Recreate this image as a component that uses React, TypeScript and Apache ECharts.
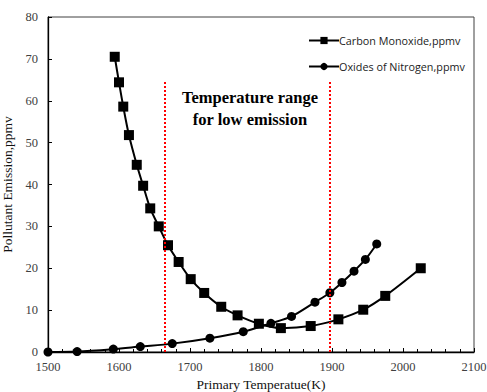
import React, { useEffect, useRef } from "react";
import * as echarts from "echarts";

const coTemp = [1594, 1600, 1606, 1614, 1625, 1634, 1644, 1656, 1669, 1684, 1701, 1720, 1744, 1767, 1797, 1828, 1870, 1909, 1944, 1975, 2025];
const coValue = [70.5, 64.4, 58.6, 51.8, 44.7, 39.7, 34.3, 30.0, 25.5, 21.5, 17.4, 14.1, 10.8, 8.75, 6.75, 5.7, 6.2, 7.8, 10.1, 13.4, 20.0];
const noxTemp = [1500, 1541, 1592, 1630, 1675, 1728, 1775, 1814, 1843, 1876, 1897, 1914, 1931, 1947, 1963];
const noxValue = [0, 0.1, 0.7, 1.3, 2.0, 3.3, 4.85, 6.85, 8.5, 11.9, 14.15, 16.6, 19.3, 22.1, 25.8];
const rangeBounds = [1665, 1897];
const rangeTop = 64.5;
const seriesNames = ["Carbon Monoxide,ppmv", "Oxides of Nitrogen,ppmv"];
const annotation = ["Temperature range", "for low emission"];

export default function App() {
  const ref = useRef<HTMLDivElement>(null);
  useEffect(() => {
    if (!ref.current) return;
    const chart = echarts.init(ref.current, undefined, { renderer: "svg" });
    const serif = "Liberation Serif";
    const lbl = { fontFamily: serif, fontSize: 12.5, color: "#404040" };
    chart.setOption({
      animation: false,
      backgroundColor: "#fff",
      grid: {
        left: 48, right: 13, top: 17, bottom: 40,
        outerBoundsMode: "none", containLabel: false,
        show: true, borderColor: "#404040", borderWidth: 1,
      },
      legend: {
        orient: "vertical",
        left: 303,
        top: 30,
        itemWidth: 30,
        itemHeight: 9,
        itemGap: 15,
        textStyle: { fontFamily: "Open Sans", fontSize: 10.8, color: "#222", padding: [0, 0, 0, -5] },
        data: seriesNames,
      },
      xAxis: {
        type: "value",
        min: 1500,
        max: 2100,
        interval: 100,
        name: "Primary Temperatue(K)",
        nameLocation: "middle",
        nameGap: 25,
        nameTextStyle: { fontFamily: serif, fontSize: 13.5, color: "#111" },
        axisLine: { lineStyle: { color: "#000", width: 1.3 } },
        axisTick: { inside: true, length: 4, lineStyle: { color: "#000" } },
        minorTick: { show: true, splitNumber: 5, length: 3, lineStyle: { color: "#000" } },
        splitLine: { show: false },
        axisLabel: { ...lbl, margin: 8, formatter: (v: number) => String(v) },
      },
      yAxis: {
        type: "value",
        min: 0,
        max: 80,
        interval: 10,
        name: "Pollutant Emission,ppmv",
        nameLocation: "middle",
        nameGap: 34,
        nameTextStyle: { fontFamily: serif, fontSize: 13.5, color: "#111" },
        axisLine: { show: true, lineStyle: { color: "#000", width: 1.3 } },
        axisTick: { show: true, inside: true, length: 4, lineStyle: { color: "#000" } },
        splitLine: { show: false },
        axisLabel: { ...lbl, margin: 10, formatter: (v: number) => String(v) },
      },
      graphic: annotation.map((t, i) => ({
        type: "text",
        x: 250,
        y: 97 + i * 22,
        style: {
          text: t,
          fontFamily: serif,
          fontWeight: "bold",
          fontSize: 16.5,
          fill: "#000",
          align: "center",
          verticalAlign: "middle",
        },
      })),
      series: [
        {
          name: seriesNames[0],
          type: "line",
          data: coTemp.map((t, i) => [t, coValue[i]]),
          smooth: 0.3,
          symbol: "rect",
          symbolSize: 10,
          lineStyle: { color: "#000", width: 2 },
          itemStyle: { color: "#000" },
          markLine: {
            silent: true,
            symbol: "none",
            label: { show: false },
            lineStyle: { color: "#ff0000", type: "dotted", width: 2 },
            data: rangeBounds.map((b) => [
              { coord: [b, 0] },
              { coord: [b, rangeTop] },
            ]),
          },
        },
        {
          name: seriesNames[1],
          type: "line",
          data: noxTemp.map((t, i) => [t, noxValue[i]]),
          smooth: 0.3,
          symbol: "circle",
          symbolSize: 9,
          lineStyle: { color: "#000", width: 2 },
          itemStyle: { color: "#000" },
        },
      ],
    });
    return () => chart.dispose();
  }, []);
  return <div ref={ref} style={{ width: 487, height: 392, position: "absolute", left: 0, top: 0 }} />;
}
